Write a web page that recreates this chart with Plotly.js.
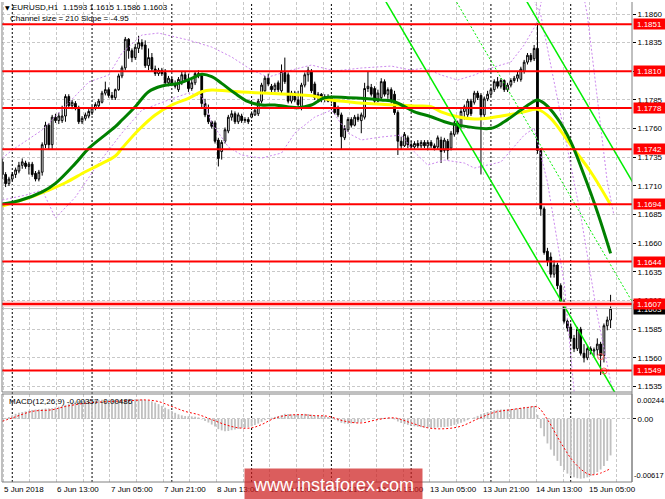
<!DOCTYPE html>
<html><head><meta charset="utf-8">
<script src="https://cdn.plot.ly/plotly-3.0.1.min.js"></script>
<style>html,body{margin:0;padding:0;background:#fff;}#chart{width:665px;height:499px;}</style>
</head><body><div id="chart"></div>
<script>
// ---------- DATA (EURUSD H1, bar index 0 = 5 Jun 21:00) ----------
const barOpen = [
1.1731,1.1720,1.1712,1.1716,1.1720,1.1723,1.1728,1.1730,1.1727,1.1729,
1.1721,1.1716,1.1722,1.1746,1.1763,1.1746,1.1770,1.1767,1.1767,1.1771,
1.1788,1.1780,1.1782,1.1778,1.1766,1.1769,1.1771,1.1774,1.1778,1.1780,
1.1783,1.1791,1.1794,1.1789,1.1787,1.1794,1.1806,1.1813,1.1838,1.1828,
1.1822,1.1830,1.1835,1.1833,1.1815,1.1822,1.1812,1.1808,1.1811,1.1809,
1.1800,1.1803,1.1799,1.1794,1.1800,1.1807,1.1803,1.1795,1.1800,1.1808,
1.1806,1.1782,1.1772,1.1766,1.1765,1.1750,1.1740,1.1749,1.1758,1.1770,
1.1773,1.1766,1.1771,1.1767,1.1768,1.1770,1.1772,1.1773,1.1784,1.1793,
1.1804,1.1797,1.1794,1.1800,1.1793,1.1809,1.1807,1.1784,1.1791,1.1785,
1.1778,1.1798,1.1807,1.1810,1.1799,1.1787,1.1790,1.1786,1.1788,1.1785,
1.1784,1.1778,1.1772,1.1752,1.1759,1.1768,1.1763,1.1770,1.1767,1.1770,
1.1795,1.1796,1.1795,1.1784,1.1787,1.1801,1.1790,1.1794,1.1790,1.1774,
1.1749,1.1745,1.1752,1.1746,1.1744,1.1747,1.1745,1.1748,1.1745,1.1748,
1.1745,1.1744,1.1750,1.1741,1.1749,1.1743,1.1755,1.1765,1.1762,1.1775,
1.1772,1.1784,1.1783,1.1791,1.1789,1.1772,1.1786,1.1790,1.1794,1.1801,
1.1797,1.1802,1.1794,1.1798,1.1802,1.1804,1.1803,1.1810,1.1818,1.1824,
1.1821,1.1830,1.1741,1.1690,1.1653,1.1648,1.1633,1.1641,1.1623,1.1609,
1.1592,1.1587,1.1577,1.1568,1.1585,1.1564,1.1560,1.1568,1.1566,1.1567,
1.1572,1.1562,1.1588,1.1593];
const barHigh = [
1.1734,1.1722,1.1718,1.1722,1.1726,1.1731,1.1734,1.1732,1.1731,1.1731,
1.1723,1.1724,1.1748,1.1766,1.1765,1.1772,1.1773,1.1774,1.1780,1.1790,
1.1790,1.1785,1.1784,1.1780,1.1771,1.1774,1.1777,1.1780,1.1783,1.1786,
1.1793,1.1801,1.1796,1.1792,1.1795,1.1808,1.1815,1.1840,1.1839,1.1830,
1.1834,1.1841,1.1838,1.1837,1.1830,1.1826,1.1815,1.1813,1.1813,1.1812,
1.1806,1.1805,1.1802,1.1805,1.1810,1.1810,1.1808,1.1803,1.1810,1.1811,
1.1808,1.1786,1.1781,1.1767,1.1767,1.1752,1.1750,1.1761,1.1772,1.1776,
1.1775,1.1774,1.1773,1.1770,1.1770,1.1775,1.1778,1.1786,1.1800,1.1806,
1.1808,1.1799,1.1800,1.1802,1.1816,1.1822,1.1809,1.1793,1.1793,1.1793,
1.1800,1.1809,1.1814,1.1812,1.1801,1.1792,1.1791,1.1790,1.1790,1.1789,
1.1786,1.1780,1.1774,1.1763,1.1770,1.1770,1.1772,1.1773,1.1774,1.1800,
1.1810,1.1799,1.1797,1.1794,1.1804,1.1803,1.1796,1.1796,1.1793,1.1776,
1.1753,1.1757,1.1754,1.1749,1.1749,1.1750,1.1750,1.1750,1.1750,1.1750,
1.1747,1.1754,1.1753,1.1752,1.1751,1.1758,1.1767,1.1767,1.1777,1.1781,
1.1786,1.1786,1.1793,1.1793,1.1791,1.1788,1.1793,1.1796,1.1803,1.1805,
1.1804,1.1803,1.1800,1.1804,1.1806,1.1810,1.1814,1.1820,1.1826,1.1826,
1.1833,1.1852,1.1743,1.1692,1.1656,1.1652,1.1645,1.1643,1.1625,1.1611,
1.1594,1.1590,1.1580,1.1587,1.1587,1.1572,1.1571,1.1570,1.1569,1.1577,
1.1574,1.1590,1.1596,1.1615];
const barLow = [
1.1716,1.1709,1.1710,1.1714,1.1717,1.1721,1.1725,1.1725,1.1720,1.1718,
1.1714,1.1714,1.1719,1.1743,1.1742,1.1742,1.1765,1.1764,1.1765,1.1766,
1.1778,1.1777,1.1776,1.1764,1.1764,1.1767,1.1769,1.1772,1.1776,1.1778,
1.1782,1.1789,1.1787,1.1785,1.1785,1.1793,1.1804,1.1811,1.1821,1.1818,
1.1820,1.1826,1.1829,1.1813,1.1811,1.1810,1.1806,1.1806,1.1806,1.1798,
1.1797,1.1797,1.1795,1.1792,1.1798,1.1801,1.1792,1.1793,1.1798,1.1804,
1.1778,1.1770,1.1764,1.1760,1.1747,1.1727,1.1733,1.1747,1.1756,1.1767,
1.1764,1.1764,1.1765,1.1765,1.1764,1.1769,1.1771,1.1771,1.1782,1.1791,
1.1797,1.1792,1.1792,1.1792,1.1791,1.1799,1.1782,1.1782,1.1783,1.1779,
1.1776,1.1796,1.1801,1.1791,1.1785,1.1783,1.1783,1.1783,1.1783,1.1782,
1.1772,1.1770,1.1742,1.1750,1.1757,1.1761,1.1762,1.1766,1.1756,1.1768,
1.1792,1.1788,1.1782,1.1783,1.1785,1.1788,1.1786,1.1782,1.1772,1.1737,
1.1742,1.1744,1.1743,1.1742,1.1742,1.1743,1.1743,1.1743,1.1741,1.1743,
1.1741,1.1742,1.1730,1.1739,1.1733,1.1741,1.1753,1.1755,1.1760,1.1768,
1.1770,1.1771,1.1781,1.1785,1.1720,1.1770,1.1784,1.1788,1.1792,1.1795,
1.1795,1.1792,1.1792,1.1796,1.1800,1.1801,1.1801,1.1808,1.1816,1.1818,
1.1819,1.1738,1.1684,1.1650,1.1640,1.1630,1.1630,1.1620,1.1606,1.1590,
1.1583,1.1575,1.1565,1.1566,1.1562,1.1556,1.1558,1.1563,1.1561,1.1562,
1.1545,1.1556,1.1584,1.1586];
const barClose = [
1.1720,1.1712,1.1716,1.1720,1.1724,1.1728,1.1731,1.1727,1.1729,1.1720,
1.1716,1.1722,1.1746,1.1763,1.1746,1.1770,1.1767,1.1771,1.1771,1.1788,
1.1780,1.1783,1.1778,1.1766,1.1769,1.1772,1.1775,1.1778,1.1781,1.1784,
1.1791,1.1794,1.1789,1.1787,1.1794,1.1806,1.1813,1.1838,1.1828,1.1822,
1.1831,1.1835,1.1832,1.1815,1.1822,1.1812,1.1808,1.1811,1.1808,1.1800,
1.1804,1.1799,1.1797,1.1803,1.1807,1.1803,1.1795,1.1800,1.1808,1.1806,
1.1782,1.1772,1.1766,1.1762,1.1749,1.1734,1.1748,1.1759,1.1770,1.1773,
1.1766,1.1772,1.1767,1.1768,1.1766,1.1773,1.1776,1.1784,1.1798,1.1804,
1.1799,1.1794,1.1798,1.1794,1.1810,1.1801,1.1784,1.1791,1.1785,1.1781,
1.1798,1.1807,1.1811,1.1793,1.1787,1.1790,1.1786,1.1788,1.1784,1.1787,
1.1774,1.1772,1.1753,1.1760,1.1768,1.1763,1.1770,1.1768,1.1772,1.1795,
1.1797,1.1790,1.1784,1.1791,1.1801,1.1790,1.1794,1.1784,1.1774,1.1749,
1.1745,1.1755,1.1746,1.1744,1.1747,1.1745,1.1748,1.1745,1.1748,1.1745,
1.1743,1.1752,1.1740,1.1750,1.1741,1.1756,1.1765,1.1757,1.1775,1.1779,
1.1784,1.1773,1.1791,1.1787,1.1772,1.1786,1.1790,1.1794,1.1801,1.1797,
1.1802,1.1794,1.1798,1.1802,1.1804,1.1807,1.1812,1.1818,1.1824,1.1820,
1.1830,1.1741,1.1690,1.1652,1.1644,1.1633,1.1641,1.1623,1.1609,1.1592,
1.1586,1.1577,1.1568,1.1585,1.1564,1.1560,1.1568,1.1566,1.1567,1.1572,
1.1562,1.1588,1.1593,1.1603];

// moving averages (read at sample bars)
const greenMaK = [0,5,12,16,22,26,34,36,40,44,48,53,57,60,63,66,70,74,78,82,89,93,97,104,109,114,118,122,124,129,133,137,147,151,156,159,161,163,167,171,175,179,183];
const greenMaV = [1.16942,1.16971,1.17049,1.17123,1.17297,1.17428,1.17617,1.17675,1.17791,1.17922,1.17972,1.17995,1.18039,1.18074,1.18053,1.17995,1.17908,1.17835,1.17806,1.17806,1.17782,1.17806,1.1787,1.1787,1.17864,1.1785,1.17835,1.17777,1.17747,1.17704,1.1766,1.17631,1.17603,1.1766,1.17762,1.17821,1.1785,1.17821,1.1769,1.17486,1.17195,1.16875,1.16512];
const yellowMaK = [0,9,14,19,25,29,34,36,41,46,51,56,60,63,68,74,80,87,93,99,104,109,114,119,124,129,132,137,142,147,152,157,161,165,171,177,183];
const yellowMaV = [1.16925,1.17006,1.17064,1.17128,1.17224,1.17282,1.17361,1.17428,1.17588,1.17719,1.17806,1.17864,1.17922,1.17937,1.17928,1.17917,1.17908,1.17899,1.17887,1.1785,1.17835,1.17821,1.17812,1.17806,1.17797,1.17791,1.17747,1.17704,1.17684,1.17695,1.17719,1.17747,1.17768,1.1769,1.17457,1.17224,1.16935];

// bands (purple dotted)
const upperBandK = [0,3,12,20,26,32,36,42,47,56,63,69,75,80,87,93,100,108,117,123,127,132,137,142,147,153,157,161,164,170,176,179,182,184];
const upperBandV = [1.17343,1.17413,1.17588,1.17823,1.18007,1.18068,1.1826,1.18417,1.18434,1.18373,1.18312,1.18225,1.18111,1.1805,1.18111,1.18155,1.18103,1.18129,1.18146,1.18111,1.18129,1.18068,1.18024,1.18068,1.18129,1.18181,1.1833,1.1853,1.1900,1.1950,1.18591,1.17867,1.17134,1.16846];
const lowerBandK = [0,7,12,16,22,29,36,42,50,56,60,63,68,72,78,84,88,94,99,104,108,114,120,124,128,133,139,142,150,157,160,164,169,171,173];
const lowerBandV = [1.16977,1.1702,1.17064,1.1682,1.17003,1.173,1.17562,1.17762,1.1785,1.17911,1.17884,1.17649,1.1744,1.1737,1.17343,1.17387,1.17562,1.17701,1.17762,1.17562,1.17501,1.17527,1.17544,1.17396,1.17282,1.17326,1.173,1.17256,1.17309,1.17544,1.17605,1.17134,1.16261,1.15685,1.1500];
const extraBandK = [159,162,168,174,179,182,184];
const extraBandV = [1.1878,1.18591,1.17719,1.16846,1.15973,1.15537,1.1525];

// regression channel (size 210, slope -4.95)
const channelSize = 210, channelSlope = -4.95;
const chanLowK = [110,190], chanLowV = [1.18975,1.15015];
const chanMidK = [130,190], chanMidV = [1.19035,1.16065];
const chanUpK  = [150,190], chanUpV  = [1.19095,1.17115];

// markers near the low
const circleK = [180,181], circleV = [1.1561,1.15485];

// levels
const levels = [1.1851,1.1810,1.1778,1.1742,1.1694,1.1644,1.1607,1.1549];
const bidPrice = 1.1603;
const priceTicks = [1.1860,1.1835,1.1810,1.1785,1.1760,1.1735,1.1710,1.1685,1.1660,1.1635,1.1610,1.1585,1.1560,1.1535];

// MACD(12,26,9)
const macdHist = [
0.00002,0.00010,0.00020,0.00035,0.00050,0.00060,0.00068,0.00074,0.00080,0.00088,
0.00092,0.00095,0.00098,0.00102,0.00104,0.00106,0.00112,0.00120,0.00128,0.00138,
0.00150,0.00160,0.00170,0.00175,0.00178,0.00180,0.00182,0.00184,0.00185,0.00186,
0.00187,0.00188,0.00188,0.00187,0.00186,0.00188,0.00190,0.00194,0.00196,0.00195,
0.00194,0.00192,0.00190,0.00186,0.00180,0.00172,0.00160,0.00145,0.00128,0.00110,
0.00095,0.00078,0.00060,0.00045,0.00035,0.00028,0.00026,0.00025,0.00022,0.00015,
-0.00005,-0.00020,-0.00035,-0.00055,-0.00075,-0.00100,-0.00112,-0.00120,-0.00118,-0.00110,
-0.00104,-0.00098,-0.00090,-0.00085,-0.00080,-0.00072,-0.00060,-0.00045,-0.00028,-0.00012,
0.00002,0.00012,0.00020,0.00028,0.00038,0.00050,0.00048,0.00045,0.00042,0.00042,
0.00046,0.00050,0.00048,0.00042,0.00035,0.00030,0.00028,0.00026,0.00020,0.00008,
-0.00008,-0.00022,-0.00038,-0.00045,-0.00046,-0.00044,-0.00040,-0.00035,-0.00030,-0.00015,
-0.00005,0.00000,0.00002,0.00005,0.00010,0.00010,0.00008,0.00004,-0.00005,-0.00025,
-0.00040,-0.00050,-0.00058,-0.00065,-0.00072,-0.00076,-0.00080,-0.00084,-0.00086,-0.00087,
-0.00087,-0.00084,-0.00082,-0.00080,-0.00076,-0.00068,-0.00058,-0.00048,-0.00038,-0.00025,
-0.00012,0.00000,0.00015,0.00030,0.00045,0.00058,0.00068,0.00078,0.00086,0.00090,
0.00092,0.00094,0.00095,0.00097,0.00100,0.00104,0.00108,0.00114,0.00118,0.00122,
0.00126,0.00040,-0.00090,-0.00170,-0.00240,-0.00300,-0.00360,-0.00410,-0.00460,-0.00500,
-0.00535,-0.00555,-0.00570,-0.00580,-0.00585,-0.00580,-0.00572,-0.00558,-0.00540,-0.00520,
-0.00495,-0.00460,-0.00410,-0.00357];
const signalK = [0,3,9,15,19,25,32,39,43,47,51,55,59,63,67,71,75,78,81,84,89,94,98,103,108,113,118,123,128,133,138,143,148,153,158,161,164,168,172,176,178,180,183];
const signalV = [-0.00022,0.00010,0.00074,0.00090,0.00122,0.00154,0.00170,0.00180,0.00186,0.00170,0.00122,0.00074,0.00042,-0.00006,-0.00055,-0.00087,-0.00087,-0.00055,-0.00006,0.00026,0.00042,0.00032,0.00026,-0.00022,-0.00039,-0.00006,0.00010,-0.00039,-0.00087,-0.00096,-0.00071,0.00000,0.00064,0.00090,0.00112,0.00116,-0.00006,-0.00231,-0.00424,-0.00536,-0.00546,-0.00530,-0.00486];
const macdMax = 0.00244, macdMin = -0.00617;

// time axis labels
const dateTickK = [0,16,32,48,64,80,96,112,128,144,160,176];
const dateTickText = ["5 Jun 2018","6 Jun 13:00","7 Jun 05:00","7 Jun 21:00","8 Jun 13:00","11 Jun 05:00","11 Jun 21:00","12 Jun 13:00","13 Jun 05:00","13 Jun 21:00","14 Jun 13:00","15 Jun 05:00"];
const daySeparatorK = [3,27,51,75,99,123,147,171];

// ---------- CHART ----------
const FONT = 'Liberation Sans, Arial, sans-serif';
const L = 2, R = 632, T = 2, B = 482;
const px = v => (v - L) / (R - L);
const py = v => (B - v) / (B - T);
const barX = barClose.map((_, i) => i);
const last = barClose.length - 1;

const traces = [
  {type:'candlestick', x:barX, open:barOpen, high:barHigh, low:barLow, close:barClose,
   xaxis:'x', yaxis:'y', whiskerwidth:0, hoverinfo:'none',
   increasing:{line:{color:'#000', width:1}, fillcolor:'#ffffff'},
   decreasing:{line:{color:'#000', width:1}, fillcolor:'#000000'}},
  {type:'scatter', mode:'lines', x:upperBandK, y:upperBandV, yaxis:'y', line:{color:'#cc88ee', width:1, dash:'2px,2px'}, hoverinfo:'none'},
  {type:'scatter', mode:'lines', x:lowerBandK, y:lowerBandV, yaxis:'y', line:{color:'#cc88ee', width:1, dash:'2px,2px'}, hoverinfo:'none'},
  {type:'scatter', mode:'lines', x:extraBandK, y:extraBandV, yaxis:'y', line:{color:'#cc88ee', width:1, dash:'2px,2px'}, hoverinfo:'none'},
  {type:'scatter', mode:'lines', x:yellowMaK, y:yellowMaV, yaxis:'y', line:{color:'#ffff00', width:3, shape:'spline', smoothing:1}, hoverinfo:'none'},
  {type:'scatter', mode:'lines', x:greenMaK, y:greenMaV, yaxis:'y', line:{color:'#008000', width:3, shape:'spline', smoothing:1}, hoverinfo:'none'},
  {type:'scatter', mode:'lines', x:chanLowK, y:chanLowV, yaxis:'y', line:{color:'#00ee00', width:1.5}, hoverinfo:'none'},
  {type:'scatter', mode:'lines', x:chanUpK, y:chanUpV, yaxis:'y', line:{color:'#00ee00', width:1.5}, hoverinfo:'none'},
  {type:'scatter', mode:'lines', x:chanMidK, y:chanMidV, yaxis:'y', line:{color:'#00ee00', width:1, dash:'2px,2px'}, hoverinfo:'none'},
  {type:'scatter', mode:'markers', x:circleK, y:circleV, yaxis:'y', marker:{symbol:'circle-open', color:'#ff6060', size:6, line:{width:1}}, hoverinfo:'none'},
  {type:'bar', x:barX, y:macdHist, xaxis:'x', yaxis:'y2', marker:{color:'#c0c0c0', line:{width:0}}, width:0.55, hoverinfo:'none'},
  {type:'scatter', mode:'lines', x:signalK, y:signalV, xaxis:'x', yaxis:'y2', line:{color:'#ff0000', width:1, dash:'2px,2px', shape:'spline'}, hoverinfo:'none'}
];

const shapes = [];
// day separators (both panels)
daySeparatorK.forEach(k => shapes.push({type:'line', xref:'x', yref:'paper', x0:k, x1:k, y0:0, y1:1, line:{color:'#000', width:1, dash:'2px,2px'}, layer:'below'}));
// bid line
shapes.push({type:'line', xref:'paper', yref:'y', x0:0, x1:1, y0:bidPrice, y1:bidPrice, line:{color:'#c0c0c0', width:1}, layer:'above'});
// red levels
levels.forEach(v => {
  if (v === 1.1607) shapes.push({type:'line', xref:'paper', yref:'y', x0:0, x1:1, y0:v, y1:v, line:{color:'#ffb4b4', width:5}, layer:'above'});
  shapes.push({type:'line', xref:'paper', yref:'y', x0:0, x1:1, y0:v, y1:v, line:{color:'#ff0000', width:2}, layer:'above'});
});
// frames
shapes.push({type:'line', xref:'paper', yref:'paper', x0:0, x1:0, y0:py(392), y1:1, line:{color:'#808080', width:1}, layer:'above'});
shapes.push({type:'line', xref:'paper', yref:'paper', x0:1, x1:1, y0:0, y1:1, line:{color:'#808080', width:1}, layer:'above'});
shapes.push({type:'line', xref:'paper', yref:'paper', x0:0, x1:1, y0:py(392), y1:py(392), line:{color:'#808080', width:1}, layer:'above'});
shapes.push({type:'rect', xref:'paper', yref:'paper', x0:0, x1:1, y0:0, y1:py(394), line:{color:'#808080', width:1}, fillcolor:'rgba(0,0,0,0)', layer:'above'});

const ann = [];
// bid label then level labels
ann.push({xref:'paper', x:1, xanchor:'left', xshift:1, yref:'y', y:bidPrice, yanchor:'middle', text:bidPrice.toFixed(4), showarrow:false, bgcolor:'#000', font:{color:'#fff', size:8, family:FONT}, borderpad:1, width:29, height:8});
levels.forEach(v => ann.push({xref:'paper', x:1, xanchor:'left', xshift:1, yref:'y', y:v, yanchor:'middle', text:v.toFixed(4), showarrow:false, bgcolor:'#ff0000', font:{color:'#fff', size:8, family:FONT}, borderpad:1, width:29, height:8}));
// MACD scale labels
ann.push({xref:'paper', x:1, xanchor:'left', xshift:3, yref:'y2 domain', y:1, yanchor:'top', text:macdMax.toFixed(5), showarrow:false, font:{size:7.5, family:FONT, color:'#000'}});
ann.push({xref:'paper', x:1, xanchor:'left', xshift:0, yref:'y2 domain', y:0, yanchor:'bottom', text:macdMin.toFixed(5), showarrow:false, font:{size:7.5, family:FONT, color:'#000'}});
// header
ann.push({xref:'paper', yref:'paper', x:px(3), y:py(8), xanchor:'left', yanchor:'middle', text:'\u25BC', showarrow:false, font:{size:6, family:'DejaVu Sans', color:'#000'}});
ann.push({xref:'paper', yref:'paper', x:px(10), y:py(8), xanchor:'left', yanchor:'middle',
  text:'EURUSD,H1\u00a0\u00a0' + [barOpen[last], barHigh[last], barLow[last], barClose[last]].map(v => v.toFixed(4)).join(' '),
  showarrow:false, font:{size:8, family:FONT, color:'#000'}});
ann.push({xref:'paper', yref:'paper', x:px(8), y:py(19), xanchor:'left', yanchor:'middle',
  text:'Channel size = ' + channelSize + ' Slope = ' + channelSlope.toFixed(2), showarrow:false, font:{size:8, family:FONT, color:'#000'}});
ann.push({xref:'paper', yref:'paper', x:px(7), y:py(401), xanchor:'left', yanchor:'middle',
  text:'MACD(12,26,9) ' + macdHist[last].toFixed(5) + ' ' + signalV[signalV.length-1].toFixed(5), showarrow:false, font:{size:8, family:FONT, color:'#000'}});
// date labels
dateTickK.forEach((k, i) => ann.push({xref:'x', yref:'paper', x:k, y:py(489), xanchor:'left', yanchor:'middle', text:dateTickText[i], showarrow:false, font:{size:8, family:FONT, color:'#000'}}));
// watermark
ann.push({xref:'paper', yref:'paper', x:px(333.5), y:py(484), xanchor:'center', yanchor:'middle', text:'www.instaforex.com', showarrow:false,
  bgcolor:'rgba(205,30,30,0.72)', width:177, height:31, borderpad:0, font:{size:18, family:FONT, color:'#fff'}});

const layout = {
  width:665, height:499,
  margin:{l:L, r:665-R, t:T, b:499-B},
  paper_bgcolor:'#fff', plot_bgcolor:'#fff',
  showlegend:false, boxgap:0.25, bargap:0.4,
  font:{family:FONT, size:8, color:'#000'},
  xaxis:{range:[-0.09,189.44], anchor:'y2', showgrid:true, gridcolor:'#c8c8c8', griddash:'3px,2px', gridwidth:1,
         tick0:8.33, dtick:8.02, showticklabels:false, ticks:'', zeroline:false, showline:false,
         rangeslider:{visible:false}, fixedrange:true},
  yaxis:{domain:[py(392),1], range:[1.15302,1.18705], side:'right', anchor:'x',
         tickvals:priceTicks, ticktext:priceTicks.map(v => v.toFixed(4)),
         ticks:'outside', ticklen:3, tickcolor:'#000', tickfont:{size:8, family:FONT, color:'#000'},
         showgrid:true, gridcolor:'#c8c8c8', griddash:'3px,2px', zeroline:false, showline:false, fixedrange:true},
  yaxis2:{domain:[0,py(394)], range:[macdMin, macdMax], side:'right', anchor:'x',
          tickvals:[0], ticktext:['0.00'], ticks:'outside', ticklen:3, tickcolor:'#000', tickfont:{size:8, family:FONT, color:'#000'},
          showgrid:true, gridcolor:'#c8c8c8', griddash:'3px,2px', zeroline:false, showline:false, fixedrange:true},
  shapes:shapes,
  annotations:ann
};

Plotly.newPlot('chart', traces, layout, {staticPlot:true, displayModeBar:false});
</script>
</body></html>
